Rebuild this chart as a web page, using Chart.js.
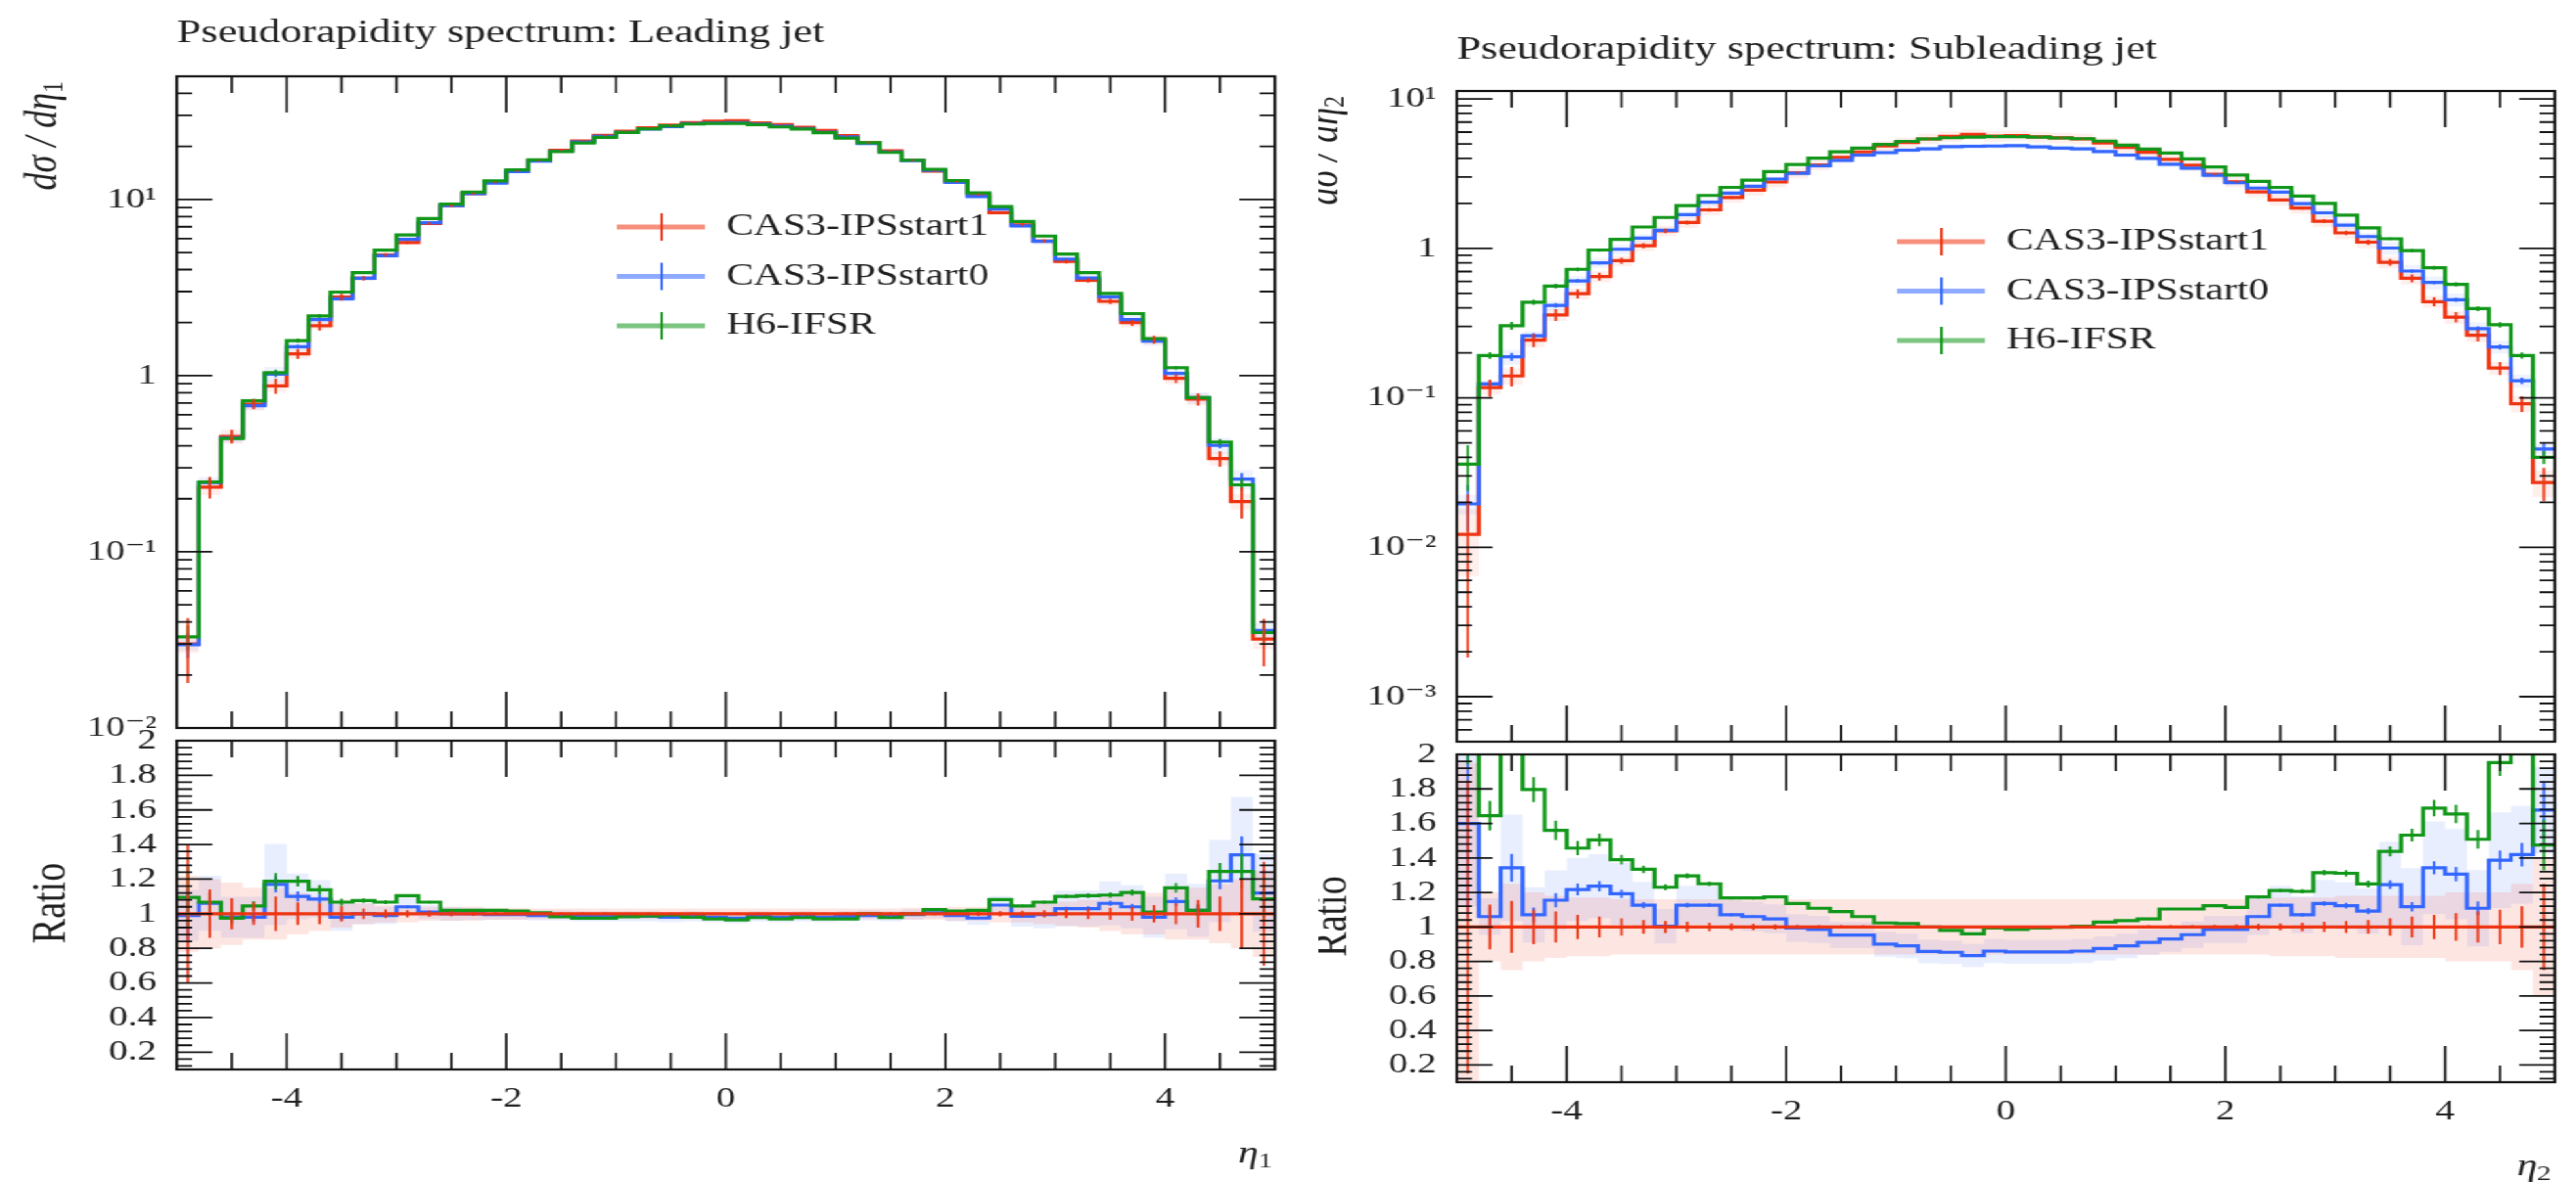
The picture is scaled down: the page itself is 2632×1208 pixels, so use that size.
<!DOCTYPE html>
<html>
<head>
<meta charset="utf-8">
<title>Pseudorapidity spectra</title>
<script src="https://cdn.jsdelivr.net/npm/chart.js@4.4.1/dist/chart.umd.min.js"></script>
<style>
  html, body { margin:0; padding:0; background:#ffffff; width:2632px; height:1208px; overflow:hidden; }
  #stage { position:absolute; left:0; top:0; width:2025px; height:1208px; transform:scaleX(1.3); transform-origin:0 0; }
  #stage canvas { position:absolute; }
</style>
</head>
<body>
<div id="stage">
  <canvas id="leadMain" width="1030" height="778" style="left:0px;top:0px;"></canvas>
  <canvas id="leadRatio" width="1030" height="485" style="left:0px;top:723px;"></canvas>
  <canvas id="subMain" width="989" height="792" style="left:1036px;top:0px;"></canvas>
  <canvas id="subRatio" width="989" height="471" style="left:1036px;top:737px;"></canvas>
</div>
<script>
// ---------------- data ----------------
const binEdges = [-5,-4.8,-4.6,-4.4,-4.2,-4,-3.8,-3.6,-3.4,-3.2,-3,-2.8,-2.6,-2.4,-2.2,-2,-1.8,-1.6,-1.4,-1.2,-1,-0.8,-0.6,-0.4,-0.2,0,0.2,0.4,0.6,0.8,1,1.2,1.4,1.6,1.8,2,2.2,2.4,2.6,2.8,3,3.2,3.4,3.6,3.8,4,4.2,4.4,4.6,4.8,5];

const seriesNames = ['CAS3-IPSstart1','CAS3-IPSstart0','H6-IFSR'];

// Leading jet, d sigma / d eta1
const leadRed = [0.030,0.233,0.452,0.689,0.875,1.33,1.92,2.79,3.57,4.84,5.70,7.31,9.22,10.8,12.5,14.5,16.7,19.0,21.5,23.1,24.4,25.5,26.4,27.3,27.8,28.0,27.2,26.6,25.7,24.6,23.0,21.0,18.9,16.7,14.5,12.6,10.7,8.41,7.18,5.81,4.45,3.48,2.64,2.00,1.60,0.965,0.735,0.338,0.193,0.032];
const leadBlue = [0.0297,0.247,0.443,0.675,1.02,1.46,2.08,2.73,3.57,4.79,5.93,7.38,9.22,10.8,12.4,14.4,16.5,18.8,21.2,22.8,24.0,25.1,25.9,26.9,27.2,27.3,26.8,26.1,25.3,24.1,22.7,20.8,18.6,16.6,14.6,12.5,10.4,8.83,7.07,5.78,4.58,3.58,2.80,2.08,1.57,1.03,0.750,0.402,0.259,0.0358];
const leadGreen = [0.0329,0.249,0.440,0.720,1.04,1.58,2.18,2.98,3.84,5.16,6.29,7.80,9.40,11.0,12.75,14.7,16.8,18.7,20.9,22.5,24.0,25.2,26.2,26.8,27.0,27.0,26.6,25.8,25.1,23.9,22.3,21.0,18.5,16.7,14.8,12.8,10.9,9.10,7.50,6.20,4.90,3.84,2.93,2.25,1.62,1.11,0.750,0.420,0.240,0.0348];
const leadRatioBlue = [0.99,1.06,0.98,0.98,1.17,1.10,1.085,0.98,1.0,0.99,1.04,1.01,1.0,1.0,0.995,0.995,0.99,0.99,0.985,0.985,0.985,0.985,0.98,0.985,0.98,0.975,0.985,0.98,0.985,0.98,0.985,0.99,0.985,0.995,1.005,0.99,0.975,1.05,0.985,0.995,1.03,1.03,1.06,1.04,0.98,1.07,1.02,1.19,1.34,1.12];
const leadRatioGreen = [1.095,1.067,0.974,1.045,1.188,1.188,1.138,1.067,1.076,1.067,1.104,1.067,1.02,1.02,1.02,1.015,1.005,0.983,0.974,0.974,0.983,0.987,0.993,0.98,0.97,0.965,0.978,0.97,0.978,0.97,0.97,1.0,0.978,1.0,1.024,1.015,1.02,1.082,1.045,1.067,1.10,1.104,1.108,1.123,1.01,1.15,1.02,1.244,1.244,1.086];
const leadErr = [0.40,0.14,0.09,0.065,0.10,0.065,0.06,0.045,0.03,0.025,0.02,0.018,0.015,0.012,0.01,0.01,0.008,0.008,0.007,0.007,0.006,0.006,0.006,0.006,0.006,0.006,0.006,0.006,0.006,0.006,0.007,0.007,0.008,0.008,0.01,0.01,0.012,0.015,0.018,0.02,0.025,0.03,0.035,0.04,0.05,0.06,0.08,0.10,0.20,0.30];
const leadBandRed = [0.22,0.20,0.18,0.15,0.15,0.12,0.10,0.08,0.06,0.05,0.05,0.04,0.04,0.04,0.035,0.035,0.03,0.03,0.03,0.03,0.03,0.03,0.03,0.03,0.03,0.03,0.03,0.03,0.03,0.03,0.03,0.03,0.03,0.035,0.035,0.04,0.04,0.05,0.05,0.06,0.07,0.08,0.10,0.12,0.12,0.15,0.15,0.17,0.20,0.25];
const leadBandBlue = [0.15,0.15,0.12,0.12,0.20,0.12,0.10,0.08,0.06,0.05,0.05,0.04,0.04,0.035,0.03,0.03,0.03,0.03,0.03,0.03,0.03,0.03,0.03,0.03,0.03,0.03,0.03,0.03,0.03,0.03,0.03,0.03,0.03,0.03,0.03,0.035,0.04,0.05,0.06,0.08,0.10,0.10,0.12,0.12,0.12,0.15,0.15,0.20,0.25,0.20];

// Subleading jet, d sigma / d eta2
const subRed = [0.0122,0.117,0.140,0.243,0.359,0.497,0.648,0.827,1.042,1.31,1.49,1.81,2.19,2.45,2.78,3.20,3.62,4.07,4.42,4.85,5.10,5.40,5.61,5.78,5.63,5.69,5.58,5.49,5.40,5.08,4.73,4.40,3.94,3.60,3.13,2.79,2.39,2.11,1.86,1.52,1.27,1.10,0.807,0.631,0.440,0.347,0.262,0.158,0.0914,0.0271];
const subBlue = [0.0195,0.124,0.188,0.260,0.415,0.605,0.801,0.986,1.17,1.32,1.68,2.04,2.34,2.60,2.91,3.18,3.57,3.88,4.21,4.37,4.54,4.63,4.79,4.82,4.84,4.86,4.77,4.69,4.64,4.45,4.21,4.00,3.66,3.44,3.08,2.75,2.53,2.38,1.99,1.73,1.43,1.20,1.005,0.705,0.591,0.453,0.290,0.219,0.130,0.0454];
const subGreen = [0.036,0.192,0.304,0.436,0.56,0.724,0.975,1.15,1.39,1.61,1.93,2.26,2.56,2.86,3.26,3.64,4.01,4.43,4.68,4.96,5.2,5.4,5.5,5.55,5.6,5.6,5.55,5.48,5.42,5.22,4.9,4.61,4.35,3.97,3.51,3.1,2.81,2.56,2.24,2.0,1.67,1.37,1.16,0.966,0.743,0.574,0.395,0.308,0.192,0.040];
const subRatioBlue = [1.6,1.06,1.343,1.07,1.155,1.217,1.236,1.192,1.126,1.004,1.126,1.126,1.07,1.06,1.047,0.994,0.985,0.953,0.953,0.9,0.89,0.858,0.853,0.834,0.86,0.855,0.855,0.855,0.86,0.875,0.89,0.91,0.93,0.955,0.985,0.985,1.06,1.126,1.07,1.136,1.123,1.092,1.245,1.117,1.343,1.306,1.108,1.387,1.419,1.677];
const subRatioGreen = [2.94,1.645,2.17,1.796,1.56,1.457,1.504,1.39,1.334,1.23,1.296,1.25,1.168,1.168,1.174,1.136,1.108,1.089,1.06,1.023,1.019,1.0,0.98,0.96,0.994,0.985,0.994,0.998,1.004,1.028,1.036,1.047,1.104,1.104,1.123,1.113,1.174,1.211,1.206,1.315,1.311,1.249,1.438,1.532,1.689,1.655,1.508,1.953,2.1,1.475];
const subErr = [0.85,0.13,0.15,0.10,0.09,0.07,0.06,0.05,0.04,0.035,0.03,0.025,0.02,0.018,0.015,0.012,0.01,0.01,0.01,0.008,0.008,0.008,0.008,0.008,0.008,0.008,0.008,0.008,0.008,0.008,0.008,0.01,0.01,0.01,0.012,0.015,0.018,0.02,0.025,0.03,0.035,0.04,0.05,0.06,0.07,0.08,0.09,0.10,0.12,0.25];
const subBandRed = [0.95,0.20,0.25,0.20,0.18,0.17,0.17,0.16,0.16,0.16,0.16,0.16,0.16,0.16,0.16,0.16,0.16,0.16,0.16,0.16,0.16,0.16,0.16,0.16,0.16,0.16,0.16,0.16,0.16,0.16,0.16,0.16,0.16,0.16,0.16,0.16,0.16,0.17,0.17,0.17,0.18,0.18,0.18,0.18,0.18,0.20,0.20,0.20,0.25,0.40];
const subBandBlue = [0.30,0.10,0.23,0.15,0.15,0.15,0.15,0.15,0.12,0.10,0.10,0.10,0.08,0.08,0.08,0.08,0.08,0.08,0.08,0.08,0.08,0.08,0.08,0.08,0.08,0.08,0.08,0.08,0.08,0.08,0.08,0.08,0.08,0.08,0.08,0.08,0.10,0.10,0.10,0.12,0.12,0.12,0.20,0.20,0.20,0.20,0.20,0.20,0.20,0.15];

// reference ratio (CAS3-IPSstart1 / itself)
const refRatio = [1,1,1,1,1,1,1,1,1,1,1,1,1,1,1,1,1,1,1,1,1,1,1,1,1,1,1,1,1,1,1,1,1,1,1,1,1,1,1,1,1,1,1,1,1,1,1,1,1,1];

// tick labels
const xTickVals = [-4,-2,0,2,4];
const xTickLabels = ['-4','-2','0','2','4'];
const leadLogTickVals = [0.01,0.1,1,10];
const leadLogTickLabels = ['10\u207B\u00B2','10\u207B\u00B9','1','10\u00B9'];
const subLogTickVals = [0.001,0.01,0.1,1,10];
const subLogTickLabels = ['10\u207B\u00B3','10\u207B\u00B2','10\u207B\u00B9','1','10\u00B9'];
const ratioTickVals = [0.2,0.4,0.6,0.8,1,1.2,1.4,1.6,1.8,2];
const ratioTickLabels = ['0.2','0.4','0.6','0.8','1','1.2','1.4','1.6','1.8','2'];

// ---------------- styling ----------------
const RED = '#EE3311', BLUE = '#3366FF', GREEN = '#109618';
const RED_SOFT = 'rgba(238,51,17,0.55)', BLUE_SOFT = 'rgba(51,102,255,0.55)', GREEN_SOFT = 'rgba(16,150,24,0.55)';
const RED_BAND = 'rgba(238,51,17,0.12)', BLUE_BAND = 'rgba(51,102,255,0.11)';
const RED_BAND_MAIN = 'rgba(238,51,17,0.08)', BLUE_BAND_MAIN = 'rgba(51,102,255,0.08)';
const MAIN_BAND_SCALE = 0.5;   // bands look narrower in the spectrum panels
const MODEL_ERR_SCALE = 0.4;   // stat. error bars of the two compared models are smaller
const FONT = '"Liberation Serif","DejaVu Serif",serif';
const INK = '#1e1e1e';
Chart.defaults.font.family = FONT;

function steps(vals) {
  const pts = [];
  vals.forEach((v, i) => { pts.push({x: binEdges[i], y: v}); pts.push({x: binEdges[i + 1], y: v}); });
  return pts;
}
function lineDS(vals, color, order) {
  return {data: steps(vals), borderColor: color, backgroundColor: color, borderWidth: 3.2,
          pointRadius: 0, fill: false, order: order, tension: 0, borderJoinStyle: 'miter', borderCapStyle: 'butt'};
}
function bandDS(vals, color, target) {
  return {data: steps(vals), borderWidth: 0, borderColor: 'rgba(0,0,0,0)',
          backgroundColor: color || 'rgba(0,0,0,0)', pointRadius: 0, fill: target, order: 10, tension: 0};
}

function logMinor(min, max) {
  const out = [];
  for (let e = -5; e <= 2; e++) {
    const d = Math.pow(10, e);
    for (let k = 2; k <= 9; k++) { const v = k * d; if (v > min && v < max) out.push(v); }
  }
  return out;
}
const xMinorTicks = [];
for (let k = -9; k <= 9; k++) { const v = k * 0.5; if (Math.abs(v % 2) > 1e-9) xMinorTicks.push(v); }
const ratioMinorTicks = [];
for (let k = 3; k <= 49; k++) { if (k % 5 !== 0) ratioMinorTicks.push(k * 0.04); }

function drawRich(ctx, segs, x, y, align) {
  let w = 0;
  segs.forEach(s => { ctx.font = s.font; w += ctx.measureText(s.t).width; });
  let cx = align === 'right' ? x - w : (align === 'center' ? x - w / 2 : x);
  segs.forEach(s => { ctx.font = s.font; ctx.fillText(s.t, cx, y + (s.dy || 0)); cx += ctx.measureText(s.t).width; });
}

const decoPlugin = {
  id: 'deco',
  afterDatasetsDraw(chart, args, o) {
    const ctx = chart.ctx, a = chart.chartArea, xs = chart.scales.x, ys = chart.scales.y;
    ctx.save();
    ctx.beginPath(); ctx.rect(a.left, a.top, a.right - a.left, a.bottom - a.top); ctx.clip();
    ctx.lineWidth = 2;
    (o.errs || []).forEach(e => {
      ctx.strokeStyle = e.color; ctx.beginPath();
      e.vals.forEach((v, i) => {
        const xc = xs.getPixelForValue((binEdges[i] + binEdges[i + 1]) / 2);
        const d = v * e.err[i] * e.scale;
        ctx.moveTo(xc, ys.getPixelForValue(v + d));
        ctx.lineTo(xc, ys.getPixelForValue(Math.max(v - d, 1e-6)));
      });
      ctx.stroke();
    });
    ctx.restore();
  },
  afterDraw(chart, args, o) {
    const ctx = chart.ctx, a = chart.chartArea, xs = chart.scales.x, ys = chart.scales.y;
    ctx.save();
    ctx.strokeStyle = '#111'; ctx.lineWidth = 2.2;
    ctx.strokeRect(a.left, a.top, a.right - a.left, a.bottom - a.top);
    ctx.lineWidth = 1.8; ctx.beginPath();
    const xt = (vals, len) => vals.forEach(v => { const p = xs.getPixelForValue(v);
      ctx.moveTo(p, a.top); ctx.lineTo(p, a.top + len); ctx.moveTo(p, a.bottom); ctx.lineTo(p, a.bottom - len); });
    const yt = (vals, len) => vals.forEach(v => { const p = ys.getPixelForValue(v);
      ctx.moveTo(a.left, p); ctx.lineTo(a.left + len, p); ctx.moveTo(a.right, p); ctx.lineTo(a.right - len, p); });
    xt(o.xMajor, 37); xt(o.xMinor, 17); yt(o.yMajor, 28); yt(o.yMinor, 12);
    ctx.stroke();

    if (o.legend) {
      const L = o.legend;
      L.items.forEach((it, k) => {
        const y = a.top + L.dy + k * L.gap, x0 = a.left + L.dx;
        ctx.strokeStyle = it.soft; ctx.lineWidth = 5;
        ctx.beginPath(); ctx.moveTo(x0, y); ctx.lineTo(x0 + 69, y); ctx.stroke();
        ctx.strokeStyle = it.color; ctx.lineWidth = 2;
        ctx.beginPath(); ctx.moveTo(x0 + 35, y - 14); ctx.lineTo(x0 + 35, y + 14); ctx.stroke();
        ctx.fillStyle = INK; ctx.font = '32px ' + FONT; ctx.textBaseline = 'middle'; ctx.textAlign = 'left';
        ctx.fillText(it.label, x0 + 86, y);
      });
    }
    (o.texts || []).forEach(t => {
      ctx.save();
      ctx.fillStyle = INK; ctx.textBaseline = t.baseline || 'alphabetic'; ctx.textAlign = 'left';
      ctx.translate(t.x, t.y); if (t.rot) ctx.rotate(t.rot);
      drawRich(ctx, t.segs, 0, 0, t.align || 'left');
      ctx.restore();
    });
    ctx.restore();
  }
};
Chart.register(decoPlugin);

const legendItems = [
  {label: seriesNames[0], color: RED, soft: RED_SOFT},
  {label: seriesNames[1], color: BLUE, soft: BLUE_SOFT},
  {label: seriesNames[2], color: GREEN, soft: GREEN_SOFT}
];

function baseOptions(padding) {
  return {responsive: false, animation: false, devicePixelRatio: 1, events: [],
          layout: {padding: padding}, plugins: {legend: {display: false}, tooltip: {enabled: false}}};
}

function mainChart(id, d) {
  const opts = baseOptions({left: 0, top: d.top, right: d.right, bottom: 25});
  opts.scales = {
    x: {type: 'linear', min: -5, max: 5, display: false},
    y: {type: 'logarithmic', min: d.ymin, max: d.ymax,
        grid: {display: false, drawTicks: false}, border: {display: false},
        afterFit: s => { s.width = d.yWidth; },
        afterBuildTicks: s => { s.ticks = d.tickVals.map(v => ({value: v})); },
        ticks: {autoSkip: false, padding: 16, color: INK, font: {family: FONT, size: 30},
                callback: (v, i) => d.tickLabels[i]}}
  };
  opts.plugins.deco = {
    xMajor: xTickVals, xMinor: xMinorTicks, yMajor: d.tickVals, yMinor: logMinor(d.ymin, d.ymax),
    errs: [{vals: d.blue, err: d.err, color: BLUE, scale: MODEL_ERR_SCALE},
           {vals: d.green, err: d.err, color: GREEN, scale: MODEL_ERR_SCALE},
           {vals: d.red, err: d.err, color: RED, scale: 1}],
    legend: {items: legendItems, dx: 346, dy: 154, gap: 50.5},
    texts: [
      {segs: [{t: d.title, font: '34px ' + FONT}], x: d.yWidth, y: d.titleY},
      {segs: [{t: 'd\u03C3 / d\u03B7', font: 'italic 36px ' + FONT}, {t: d.sub, font: '24px ' + FONT, dy: 8}],
       x: d.ylabX, y: d.top + 5, rot: -Math.PI / 2, align: 'right', baseline: 'middle'}
    ]
  };
  const datasets = [
    lineDS(d.green, GREEN, 1),
    lineDS(d.blue, BLUE, 2),
    lineDS(d.red, RED, 3),
    bandDS(d.red.map((v, i) => v * (1 + MAIN_BAND_SCALE * d.bandRed[i])), RED_BAND_MAIN, 4),
    bandDS(d.red.map((v, i) => v * (1 - MAIN_BAND_SCALE * d.bandRed[i])), null, false),
    bandDS(d.blue.map((v, i) => v * (1 + MAIN_BAND_SCALE * d.bandBlue[i])), BLUE_BAND_MAIN, 6),
    bandDS(d.blue.map((v, i) => v * (1 - MAIN_BAND_SCALE * d.bandBlue[i])), null, false)
  ];
  return new Chart(document.getElementById(id), {type: 'line', data: {datasets}, options: opts});
}

function ratioChart(id, d) {
  const opts = baseOptions({left: 0, top: 30, right: d.right, bottom: 0});
  opts.scales = {
    x: {type: 'linear', min: -5, max: 5,
        grid: {display: false, drawTicks: false}, border: {display: false},
        afterFit: s => { s.height = d.xHeight; },
        afterBuildTicks: s => { s.ticks = xTickVals.map(v => ({value: v})); },
        ticks: {autoSkip: false, maxRotation: 0, padding: 12, color: INK, font: {family: FONT, size: 30},
                callback: (v, i) => xTickLabels[i]}},
    y: {type: 'linear', min: 0.1, max: 2,
        grid: {display: false, drawTicks: false}, border: {display: false},
        afterFit: s => { s.width = d.yWidth; },
        afterBuildTicks: s => { s.ticks = ratioTickVals.map(v => ({value: v})); },
        ticks: {autoSkip: false, padding: 16, color: INK, font: {family: FONT, size: 30},
                callback: (v, i) => ratioTickLabels[i]}}
  };
  opts.plugins.deco = {
    xMajor: xTickVals, xMinor: xMinorTicks, yMajor: ratioTickVals, yMinor: ratioMinorTicks,
    errs: [{vals: d.rBlue, err: d.err, color: BLUE, scale: MODEL_ERR_SCALE},
           {vals: d.rGreen, err: d.err, color: GREEN, scale: MODEL_ERR_SCALE},
           {vals: refRatio, err: d.err, color: RED, scale: 1}],
    texts: [
      {segs: [{t: 'Ratio', font: '38px ' + FONT}], x: d.ratioX, y: d.midY, rot: -Math.PI / 2, align: 'center', baseline: 'middle'},
      {segs: [{t: '\u03B7', font: 'italic 32px ' + FONT}, {t: d.sub, font: '22px ' + FONT, dy: 7}],
       x: d.xlabX, y: d.xlabY, align: 'right', baseline: 'middle'}
    ]
  };
  const datasets = [
    lineDS(refRatio, RED, 1),
    lineDS(d.rGreen, GREEN, 2),
    lineDS(d.rBlue, BLUE, 3),
    bandDS(refRatio.map((v, i) => v * (1 + d.bandRed[i])), RED_BAND, 4),
    bandDS(refRatio.map((v, i) => v * (1 - d.bandRed[i])), null, false),
    bandDS(d.rBlue.map((v, i) => v * (1 + d.bandBlue[i])), BLUE_BAND, 6),
    bandDS(d.rBlue.map((v, i) => v * (1 - d.bandBlue[i])), null, false)
  ];
  return new Chart(document.getElementById(id), {type: 'line', data: {datasets}, options: opts});
}

mainChart('leadMain', {
  red: leadRed, blue: leadBlue, green: leadGreen, err: leadErr, bandRed: leadBandRed, bandBlue: leadBandBlue,
  ymin: 0.01, ymax: 50, tickVals: leadLogTickVals, tickLabels: leadLogTickLabels,
  top: 78, right: 28, yWidth: 139, title: 'Pseudorapidity spectrum: Leading jet', titleY: 43, ylabX: 35, sub: '1'
});
ratioChart('leadRatio', {
  rBlue: leadRatioBlue, rGreen: leadRatioGreen, err: leadErr, bandRed: leadBandRed, bandBlue: leadBandBlue,
  right: 28, yWidth: 139, xHeight: 115, ratioX: 41, midY: 200, xlabX: 1000, xlabY: 457, sub: '1'
});
mainChart('subMain', {
  red: subRed, blue: subBlue, green: subGreen, err: subErr, bandRed: subBandRed, bandBlue: subBandBlue,
  ymin: 0.0005, ymax: 11.3, tickVals: subLogTickVals, tickLabels: subLogTickLabels,
  top: 93, right: 17, yWidth: 109, title: 'Pseudorapidity spectrum: Subleading jet', titleY: 60, ylabX: 5.5, sub: '2'
});
ratioChart('subRatio', {
  rBlue: subRatioBlue, rGreen: subRatioGreen, err: subErr, bandRed: subBandRed, bandBlue: subBandBlue,
  right: 17, yWidth: 109, xHeight: 102, ratioX: 12, midY: 199.5, xlabX: 969, xlabY: 456, sub: '2'
});
</script>
</body>
</html>
